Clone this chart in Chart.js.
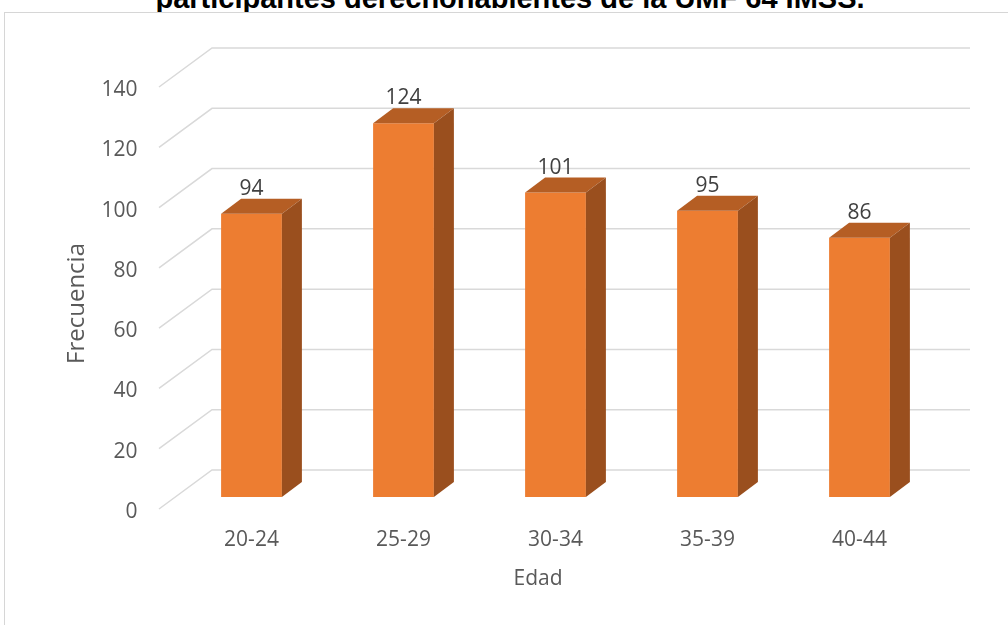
<!DOCTYPE html>
<html>
<head>
<meta charset="utf-8">
<script src="https://cdn.jsdelivr.net/npm/chart.js@4.4.1/dist/chart.umd.min.js"></script>
<style>
  body { margin: 0; background: #fff; width: 1008px; height: 625px; overflow: hidden; position: relative; }
  #titulo { position: absolute; left: 0; top: -16px; width: 1020px; text-align: center; white-space: nowrap;
            font: bold 29px/29px "Liberation Sans", Arial, sans-serif; color: #000; }
  #marco { position: absolute; left: 4px; top: 12px; width: 1100px; height: 700px; background: #fff; border: 1px solid #D6D6D6; }
  #grafica { position: absolute; left: 0; top: 0; }
</style>
</head>
<body>
<div id="titulo">participantes derechohabientes de la UMF 64 IMSS.</div>
<div id="marco"></div>
<canvas id="grafica" width="1008" height="625"></canvas>
<script>
// grupos de edad y frecuencia de participantes
const edades = ['20-24', '25-29', '30-34', '35-39', '40-44'];
const frecuencias = [94, 124, 101, 95, 86];
const marcasY = [0, 20, 40, 60, 80, 100, 120, 140];

const naranja = '#ED7D31';
const naranjaTapa = '#B55E24';
const naranjaLado = '#9A4F1E';
const gris = '#595959';
const fuente = '"Open Sans", sans-serif';

// profundidad de las barras y de la pared del fondo
const barDx = 20, barDy = -15;
const muroFrente = { dx: -16.5, dy: 12 };
const muroFondo = { dx: 36.5, dy: -27 };

const efecto3d = {
  id: 'efecto3d',
  beforeDatasetsDraw(chart) {
    const { ctx, chartArea } = chart;
    const y = chart.scales.y;
    ctx.save();
    ctx.strokeStyle = '#D9D9D9';
    ctx.lineWidth = 1.5;
    marcasY.forEach(v => {
      const py = y.getPixelForValue(v);
      ctx.beginPath();
      ctx.moveTo(chartArea.left + muroFrente.dx, py + muroFrente.dy);
      ctx.lineTo(chartArea.left + muroFondo.dx, py + muroFondo.dy);
      ctx.lineTo(chartArea.right + 34.5, py + muroFondo.dy);
      ctx.stroke();
    });
    ctx.restore();
  },
  afterDatasetsDraw(chart) {
    const { ctx } = chart;
    const meta = chart.getDatasetMeta(0);
    ctx.save();
    meta.data.forEach((bar, i) => {
      const { x, y, base, width } = bar.getProps(['x', 'y', 'base', 'width'], true);
      const l = x - width / 2, r = x + width / 2;
      // tapa
      ctx.fillStyle = naranjaTapa;
      ctx.beginPath();
      ctx.moveTo(l, y);
      ctx.lineTo(l + barDx, y + barDy);
      ctx.lineTo(r + barDx, y + barDy);
      ctx.lineTo(r, y);
      ctx.closePath();
      ctx.fill();
      // lado
      ctx.fillStyle = naranjaLado;
      ctx.beginPath();
      ctx.moveTo(r, y);
      ctx.lineTo(r + barDx, y + barDy);
      ctx.lineTo(r + barDx, base + barDy);
      ctx.lineTo(r, base);
      ctx.closePath();
      ctx.fill();
      // etiqueta de valor
      ctx.fillStyle = '#404040';
      ctx.font = '21px ' + fuente;
      ctx.textAlign = 'center';
      ctx.textBaseline = 'middle';
      ctx.fillText(String(frecuencias[i]), x, y - 25);
    });
    ctx.restore();
  },
  afterDraw(chart) {
    const { ctx, chartArea } = chart;
    ctx.save();
    ctx.fillStyle = gris;
    ctx.textAlign = 'center';
    ctx.textBaseline = 'middle';
    ctx.font = '21px ' + fuente;
    ctx.fillText('Edad', (chartArea.left + chartArea.right) / 2 - 17.5, chartArea.bottom + 82);
    ctx.translate(77.5, (chartArea.top + chartArea.bottom) / 2 + 17.5);
    ctx.rotate(-Math.PI / 2);
    ctx.font = '24px ' + fuente;
    ctx.fillText('Frecuencia', 0, 0);
    ctx.restore();
  }
};

new Chart(document.getElementById('grafica'), {
  type: 'bar',
  data: {
    labels: edades,
    datasets: [{
      label: 'Frecuencia',
      data: frecuencias,
      backgroundColor: naranja,
      borderWidth: 0,
      barPercentage: 0.4,
      categoryPercentage: 1
    }]
  },
  options: {
    responsive: false,
    animation: false,
    devicePixelRatio: 1,
    layout: { padding: { top: 75, right: 72.5, left: 0, bottom: 0 } },
    plugins: { legend: { display: false }, tooltip: { enabled: false } },
    scales: {
      x: {
        grid: { display: false, drawTicks: false },
        border: { display: false },
        ticks: { color: gris, font: { family: fuente, size: 21 }, padding: 30 },
        afterFit(scale) { scale.height = 128; }
      },
      y: {
        min: 0,
        max: 140,
        grid: { display: false, drawTicks: false },
        border: { display: false },
        ticks: { stepSize: 20, padding: 38, labelOffset: 15, color: gris, font: { family: fuente, size: 21 } },
        afterFit(scale) { scale.width = 175.5; }
      }
    }
  },
  plugins: [efecto3d]
});
</script>
</body>
</html>
